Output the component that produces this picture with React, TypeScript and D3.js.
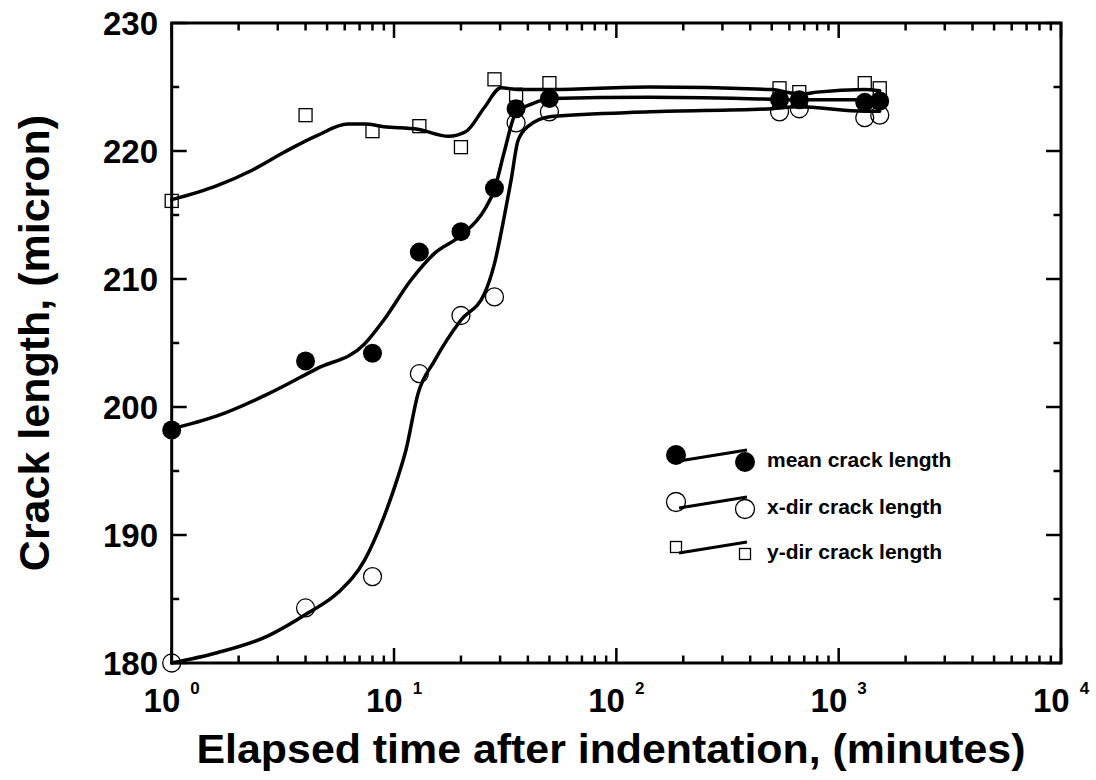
import React from "react";
import * as d3 from "d3";

// Measured crack lengths (micron) against elapsed time after indentation (minutes)
const times = [1, 4, 8, 13, 20, 28.3, 35.4, 50, 542, 665, 1310, 1530];
const meanLength = [198.2, 203.6, 204.2, 212.1, 213.7, 217.1, 223.3, 224.1, 224.0, 224.0, 223.8, 223.9];
const xDirLength = [180.0, 184.3, 186.75, 202.6, 207.15, 208.6, 222.2, 223.06, 223.06, 223.3, 222.6, 222.8];
const yDirLength = [216.1, 222.8, 221.55, 221.94, 220.3, 225.6, 224.4, 225.3, 224.9, 224.6, 225.3, 224.9];

// Smoothed trend curves: [time, length]
const meanFit: [number, number][] = [
  [1, 198.3], [1.6, 199.3], [2.7, 201.0], [4.5, 203.0], [7.35, 204.9], [9.0, 206.8],
  [11.9, 209.9], [15.2, 212.0], [20, 213.4], [25.5, 215.4], [28.3, 217.0], [31.4, 220.0],
  [35.4, 223.0], [42, 223.7], [51, 224.1], [140, 224.2], [500, 224.05], [680, 224.0],
  [1300, 224.0], [1530, 223.9],
];
const xDirFit: [number, number][] = [
  [1, 180.0], [1.6, 180.8], [2.7, 182.1], [4.1, 183.9], [5.6, 185.5], [7.35, 188.0],
  [9.0, 191.4], [10.4, 194.5], [11.3, 196.6], [12.8, 201.0], [15.2, 203.6], [20, 206.8],
  [25.5, 208.85], [28.3, 211.2], [31.5, 215.1], [33.6, 217.7], [36.1, 220.8], [39.9, 221.9],
  [51, 222.7], [142, 223.06], [500, 223.3], [655, 223.45], [1310, 223.1], [1530, 223.1],
];
const yDirFit: [number, number][] = [
  [1, 216.2], [1.6, 217.3], [2.3, 218.5], [3.2, 219.9], [4.5, 221.2], [6.2, 222.1],
  [7.4, 222.1], [9.0, 221.9], [12.8, 221.7], [17.6, 221.15], [21, 221.5], [25.5, 223.4],
  [30.3, 224.95], [36, 224.8], [51, 224.8], [140, 225.0], [500, 224.8], [600, 224.55],
  [680, 224.45], [800, 224.6], [1300, 224.8], [1530, 224.7],
];

const xDecades = [0, 1, 2, 3, 4];
const yMajorTicks = [180, 190, 200, 210, 220, 230];
const yMinorTicks = [185, 195, 205, 215, 225];
const legendLabels = ["mean crack length", "x-dir crack length", "y-dir crack length"];

const W = 1096;
const H = 780;
const FONT = "'Liberation Sans', Arial, Helvetica, sans-serif";

export default function App() {
  const x = d3.scaleLog().domain([1, 1e4]).range([171.7, 1061]);
  const y = d3.scaleLinear().domain([180, 230]).range([663, 23]);
  const [x0, x1] = x.range();
  const [y0, y1] = y.range();

  const line = d3
    .line<[number, number]>()
    .x((d) => x(d[0]))
    .y((d) => y(d[1]))
    .curve(d3.curveMonotoneX);

  const minorX: number[] = [];
  for (let k = 0; k < 4; k++) for (let m = 2; m <= 9; m++) minorX.push(m * Math.pow(10, k));

  const MAJ = 15;
  const MIN = 7.5;
  const sq = 13;

  const legendRows = [
    { yl: 455, kind: "filled" },
    { yl: 502, kind: "circle" },
    { yl: 547, kind: "square" },
  ];

  const marker = (kind: string, cx: number, cy: number, r: number, key: string) => {
    if (kind === "filled") return <circle key={key} cx={cx} cy={cy} r={r} fill="#000" />;
    if (kind === "circle")
      return <circle key={key} cx={cx} cy={cy} r={r} fill="none" stroke="#000" strokeWidth={1.3} />;
    return (
      <rect key={key} x={cx - r} y={cy - r} width={2 * r} height={2 * r} fill="none" stroke="#000" strokeWidth={1.3} />
    );
  };

  return (
    <svg width={W} height={H} style={{ position: "absolute", left: 0, top: 0, background: "#fff" }} fontFamily={FONT}>
      <rect x={0} y={0} width={W} height={H} fill="#fff" />

      {/* ticks on all four sides, pointing inward */}
      <g stroke="#000" strokeWidth={2.5}>
        {xDecades.map((k) => {
          const px = x(Math.pow(10, k));
          return (
            <g key={"xM" + k}>
              <line x1={px} x2={px} y1={y0} y2={y0 - MAJ} />
              <line x1={px} x2={px} y1={y1} y2={y1 + MAJ} />
            </g>
          );
        })}
        {minorX.map((v) => (
          <g key={"xm" + v}>
            <line x1={x(v)} x2={x(v)} y1={y0} y2={y0 - MIN} />
            <line x1={x(v)} x2={x(v)} y1={y1} y2={y1 + MIN} />
          </g>
        ))}
        {yMajorTicks.map((v) => (
          <g key={"yM" + v}>
            <line x1={x0} x2={x0 + MAJ} y1={y(v)} y2={y(v)} />
            <line x1={x1} x2={x1 - MAJ} y1={y(v)} y2={y(v)} />
          </g>
        ))}
        {yMinorTicks.map((v) => (
          <g key={"ym" + v}>
            <line x1={x0} x2={x0 + MIN} y1={y(v)} y2={y(v)} />
            <line x1={x1} x2={x1 - MIN} y1={y(v)} y2={y(v)} />
          </g>
        ))}
      </g>
      <rect x={x0} y={y1} width={x1 - x0} height={y0 - y1} fill="none" stroke="#000" strokeWidth={3} />

      {/* tick labels */}
      {yMajorTicks.map((v) => (
        <text key={"yl" + v} x={158} y={y(v) + 12} textAnchor="end" fontSize={33} fontWeight="bold">
          {v}
        </text>
      ))}
      {xDecades.map((k) => (
        <text key={"xl" + k} x={x(Math.pow(10, k))} y={712} textAnchor="middle" fontSize={33} fontWeight="bold">
          <tspan>10</tspan>
          <tspan dx={10} dy={-18} fontSize={17}>
            {k}
          </tspan>
        </text>
      ))}

      {/* axis titles */}
      <text x={611} y={763} textAnchor="middle" fontSize={41} fontWeight="bold" textLength={829} lengthAdjust="spacingAndGlyphs">
        Elapsed time after indentation, (minutes)
      </text>
      <text transform={`translate(49,343) rotate(-90)`} textAnchor="middle" fontSize={43} fontWeight="bold">
        Crack length, (micron)
      </text>

      {/* open markers */}
      {times.map((t, i) => marker("square", x(t), y(yDirLength[i]), sq / 2, "ys" + i))}
      {times.map((t, i) => marker("circle", x(t), y(xDirLength[i]), 9, "xs" + i))}

      {/* trend curves */}
      <g fill="none" stroke="#000" strokeWidth={3.5} strokeLinecap="round">
        <path d={line(yDirFit) || ""} />
        <path d={line(meanFit) || ""} />
        <path d={line(xDirFit) || ""} />
      </g>

      {/* filled markers */}
      {times.map((t, i) => marker("filled", x(t), y(meanLength[i]), 9.5, "ms" + i))}

      {/* legend */}
      {legendRows.map((row, i) => {
        const r = row.kind === "filled" ? 10 : row.kind === "circle" ? 9.5 : 5.5;
        return (
          <g key={"lg" + i}>
            {marker(row.kind, 676, row.yl, r, "a")}
            <line x1={679} y1={row.yl + 6} x2={747} y2={row.yl - 5} stroke="#000" strokeWidth={3} />
            {marker(row.kind, 745, row.yl + 7, r, "b")}
            <text x={767} y={row.yl + 12} fontSize={21} fontWeight="bold">
              {legendLabels[i]}
            </text>
          </g>
        );
      })}
    </svg>
  );
}
